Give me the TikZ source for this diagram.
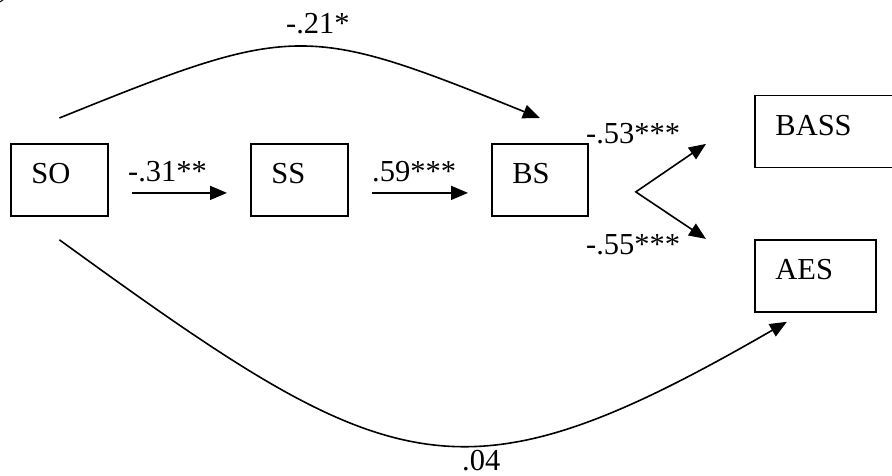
\documentclass[tikz,border=0pt]{standalone}
\usepackage{fontspec}
\setmainfont{Liberation Serif}
\usetikzlibrary{arrows.meta}
\begin{document}
\begin{tikzpicture}[x=1pt,y=-1pt,
  every node/.style={font=\fontsize{30.5}{36}\selectfont, inner sep=0pt},
  box/.style={draw, line width=1.8pt, anchor=north west, inner xsep=20.5pt, inner ysep=0pt,
              text height=40pt, text depth=32pt, align=left},
  tipend/.tip={Triangle[length=17pt,width=14pt]},
  arr/.style={line width=1.6pt, -tipend},
  arrboth/.style={line width=1.6pt, tipend-tipend},
  lab/.style={anchor=base west}]
\useasboundingbox (0,0) rectangle (892,475);
\clip (0,0) rectangle (892,475);
% fragment of a cropped caption at the top-left corner
\node[anchor=base west] (frag) at (-1,-3.5) {)};
% boxes
\node[box, text width=56pt] (SO) at (10,143) {SO};
\node[box, text width=56pt] (SS) at (250,143) {SS};
\node[box, text width=55pt] (BS) at (491,143) {BS};
\node[box, text width=115pt] (BASS) at (754,94.5) {BASS};
\node[box, text width=80pt] (AES) at (754,239) {AES};
% straight arrows
\draw[arr] ([xshift=23pt,yshift=-13pt]SO.east) -- ([xshift=-23pt,yshift=-13pt]SS.west);
\draw[arr] ([xshift=23pt,yshift=-13pt]SS.east) -- ([xshift=-23pt,yshift=-13pt]BS.west);
% chevron from BS
\coordinate (V) at ([xshift=47pt,yshift=-12pt]BS.east);
\draw[arrboth] ([xshift=-48pt,yshift=-12.5pt]BASS.west) -- (V) -- ([xshift=-48pt,yshift=37pt]AES.west);
% top curve SO -> BS
\draw[arr] ([yshift=25pt]SO.north) .. controls +(235,-95) and +(-235,-95) .. ([yshift=25pt]BS.north);
% bottom curve SO -> AES
\draw[arr] ([yshift=-23pt]SO.south) .. controls +(332,241) and +(-329,190) .. ([xshift=-28.5pt,yshift=-9pt]AES.south);
% labels
\node[lab] (l31) at (128,181) {-.31**};
\node[lab] (l59) at (372,181) {.59***};
\node[lab] (l21) at (286,33) {-.21*};
\node[lab] (l53) at (586,143) {-.53***};
\node[lab] (l55) at (586,254) {-.55***};
\node[lab] (l04) at (462,470) {.04};
\end{tikzpicture}
\end{document}
